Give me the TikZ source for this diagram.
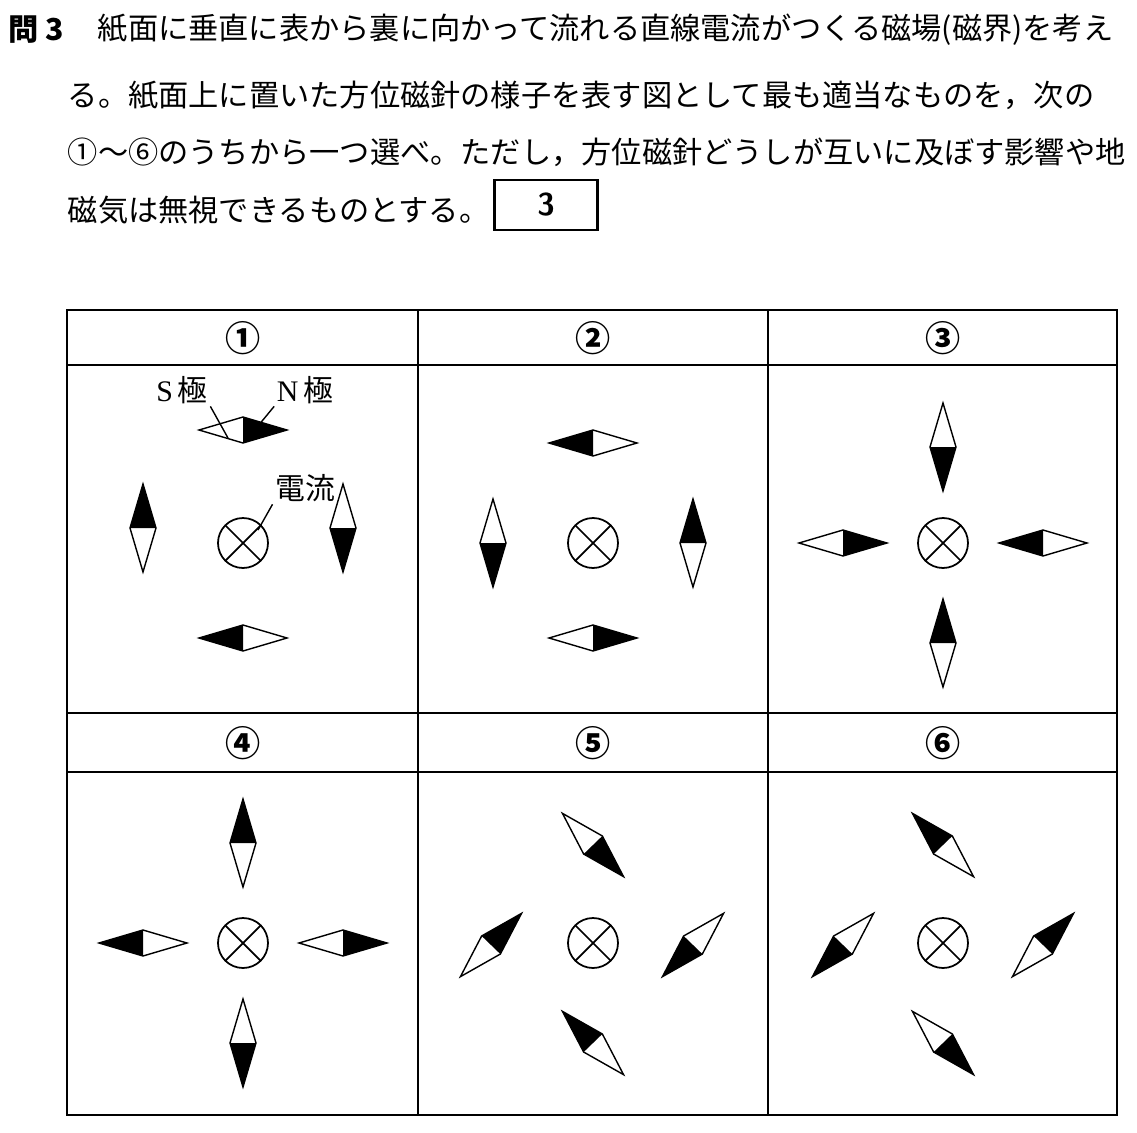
\documentclass[tikz,border=0pt]{standalone}
\usepackage{fontspec}
\setmainfont{Liberation Serif}
\newfontfamily\jp{Noto Sans CJK JP}
\usetikzlibrary{positioning}

% needle: position, angle of the N pole (picture y points down)
\newcommand{\needle}[3]{%
  \begin{scope}[shift={(#1,#2)}, rotate=-#3]
    \fill (0,0) -- (0,13) -- (44,0) -- (0,-13) -- cycle;
    \draw[thick] (-44,0) -- (0,13) -- (44,0) -- (0,-13) -- cycle;
  \end{scope}}

\begin{document}
\begin{tikzpicture}[x=0.02cm, y=-0.02cm, line width=1pt]
\tikzset{
  qtext/.style={anchor=west, font=\jp\fontsize{17.2}{18}\selectfont, inner sep=0pt},
  head/.style={font=\jp\bfseries\fontsize{20}{21}\selectfont},
  wire/.style={line width=0.8pt},
  lbl/.style={font=\fontsize{17}{18}\selectfont, inner sep=1pt}
}
\useasboundingbox (0,0) rectangle (1137,1133);

% question
\node[qtext] (q0) at (8,30) {\textbf{問 3}};
\node[qtext] (q1) at (97,30) {紙面に垂直に表から裏に向かって流れる直線電流がつくる磁場(磁界)を考え};
\node[qtext] (q2) at (67,95) {る。紙面上に置いた方位磁針の様子を表す図として最も適当なものを，次の};
\node[qtext] (q3) at (67,152) {①～⑥のうちから一つ選べ。ただし，方位磁針どうしが互いに及ぼす影響や地};
\node[qtext] (q4) at (67,210) {磁気は無視できるものとする。};
\node[draw, very thick, minimum width=2.06cm, minimum height=1cm, font=\sffamily\bfseries\fontsize{18}{19}\selectfont] (ans) at (546,205) {3};

% table
\draw (67,310) rectangle (1117,1115);
\draw (418,310) -- (418,1115);
\draw (768,310) -- (768,1115);
\draw (67,365) -- (1117,365);
\draw (67,713) -- (1117,713);
\draw (67,772) -- (1117,772);

\foreach \n/\x/\y in {①/243/338, ②/593/338, ③/943/338, ④/243/743, ⑤/593/743, ⑥/943/743}
  \node[head] at (\x,\y) {\n};

% current symbols
\foreach \cx/\cy in {243/543, 593/543, 943/543, 243/943, 593/943, 943/943} {
  \draw (\cx,\cy) circle (25);
  \draw (\cx-17.7,\cy-17.7) -- (\cx+17.7,\cy+17.7);
  \draw (\cx-17.7,\cy+17.7) -- (\cx+17.7,\cy-17.7);
}

% panel 1
\needle{243}{430}{0}
\needle{143}{528}{-90}
\needle{343}{528}{90}
\needle{243}{638}{180}
\node[lbl] (s) at (182,390) {S\,{\jp 極}};
\node[lbl] (n) at (305,390) {N\,{\jp 極}};
\node[lbl] (i) at (305,488) {\jp 電流};
\coordinate (sp) at (228,438);
\coordinate (np) at (258,426);
\coordinate (ip) at (258,530);
\draw[wire] (s.south east) -- (sp);
\draw[wire] (n.south west) -- (np);
\draw[wire] (i.south west) -- (ip);

% panel 2
\needle{593}{443}{180}
\needle{493}{543}{90}
\needle{693}{543}{-90}
\needle{593}{638}{0}

% panel 3
\needle{943}{447}{90}
\needle{843}{543}{0}
\needle{1043}{543}{180}
\needle{943}{643}{-90}

% panel 4
\needle{243}{843}{-90}
\needle{143}{943}{180}
\needle{343}{943}{0}
\needle{243}{1043}{90}

% panel 5
\needle{593}{845}{46}
\needle{491}{945}{-46}
\needle{693}{945}{134}
\needle{593}{1043}{-134}

% panel 6
\needle{943}{845}{-134}
\needle{843}{945}{134}
\needle{1043}{945}{-46}
\needle{943}{1043}{46}
\end{tikzpicture}
\end{document}
